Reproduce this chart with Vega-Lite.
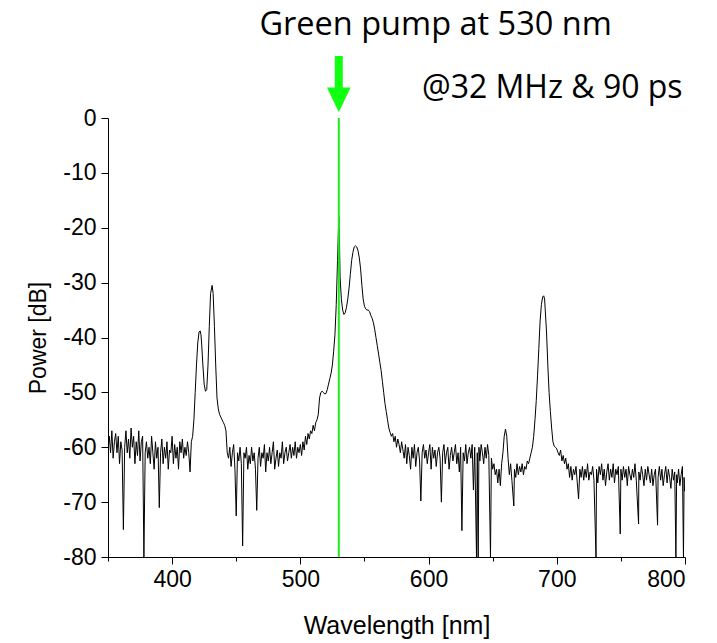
{
  "$schema": "https://vega.github.io/schema/vega-lite/v6.json",
  "autosize": "none",
  "width": 577,
  "height": 439,
  "padding": {"left": 108, "top": 118, "right": 32, "bottom": 86},
  "background": "white",
  "config": {"view": {"stroke": null}},
  "datasets": {
    "spec": [
      {"w":350,"p":-60},{"w":351,"p":-58},{"w":352,"p":-61},{"w":353,"p":-57},{"w":354,"p":-62},{"w":355,"p":-59},{"w":356,"p":-57.5},{"w":357,"p":-61},{"w":358,"p":-58},{"w":359,"p":-63},
      {"w":360,"p":-59},{"w":361,"p":-60.5},{"w":362,"p":-75},{"w":363,"p":-60},{"w":364,"p":-57},{"w":365,"p":-61},{"w":366,"p":-58.5},{"w":367,"p":-62},{"w":368,"p":-56.5},{"w":369,"p":-60},
      {"w":370,"p":-58},{"w":371,"p":-63},{"w":372,"p":-59},{"w":373,"p":-61.5},{"w":374,"p":-57},{"w":375,"p":-62.5},{"w":376,"p":-59},{"w":377,"p":-58},{"w":378,"p":-80},{"w":379,"p":-61},
      {"w":380,"p":-59},{"w":381,"p":-62},{"w":382,"p":-60},{"w":383,"p":-63},{"w":384,"p":-58},{"w":385,"p":-61},{"w":386,"p":-64},{"w":387,"p":-59},{"w":388,"p":-62},{"w":389,"p":-60},
      {"w":390,"p":-71},{"w":391,"p":-61},{"w":392,"p":-58.5},{"w":393,"p":-63},{"w":394,"p":-60},{"w":395,"p":-62},{"w":396,"p":-59},{"w":397,"p":-64},{"w":398,"p":-60.5},{"w":399,"p":-61},
      {"w":400,"p":-58},{"w":401,"p":-63},{"w":402,"p":-59.5},{"w":403,"p":-62},{"w":404,"p":-60},{"w":405,"p":-64},{"w":406,"p":-59},{"w":407,"p":-61},{"w":408,"p":-58.5},{"w":409,"p":-62},
      {"w":410,"p":-60},{"w":411,"p":-61.5},{"w":412,"p":-59},{"w":413,"p":-61},{"w":414,"p":-64.5},{"w":415,"p":-59},
      {"w":416,"p":-58},{"w":417,"p":-55},{"w":418,"p":-50},{"w":419,"p":-45},{"w":420,"p":-41},{"w":421,"p":-39},{"w":421.9,"p":-38.8},{"w":422.5,"p":-39.5},{"w":423,"p":-41},{"w":424,"p":-45},
      {"w":425,"p":-48.5},{"w":426,"p":-49.8},{"w":427,"p":-49.5},{"w":428,"p":-45},{"w":429,"p":-38},{"w":430,"p":-32},{"w":431.2,"p":-30.5},{"w":432,"p":-32},{"w":433,"p":-38},{"w":434,"p":-45},
      {"w":435,"p":-51},{"w":436,"p":-53},{"w":437,"p":-54},{"w":438,"p":-54.5},{"w":439,"p":-55},{"w":440,"p":-55.5},{"w":441,"p":-56},{"w":442,"p":-57},{"w":443,"p":-61},
      {"w":444,"p":-62},{"w":445,"p":-60},{"w":446,"p":-63.5},{"w":447,"p":-61},{"w":448,"p":-59.5},{"w":449,"p":-64},{"w":450,"p":-72.5},{"w":451,"p":-61},{"w":452,"p":-62.5},{"w":453,"p":-60},
      {"w":454,"p":-63},{"w":455,"p":-78},{"w":456,"p":-61},{"w":457,"p":-62},{"w":458,"p":-60},{"w":459,"p":-64},{"w":460,"p":-61.5},{"w":461,"p":-63},{"w":462,"p":-60},{"w":463,"p":-62.5},
      {"w":464,"p":-61},{"w":465,"p":-64},{"w":466,"p":-71.5},{"w":467,"p":-62},{"w":468,"p":-60},{"w":469,"p":-63.5},{"w":470,"p":-61},{"w":471,"p":-62},{"w":472,"p":-59.5},{"w":473,"p":-64.5},
      {"w":474,"p":-61},{"w":475,"p":-62.5},{"w":476,"p":-60},{"w":477,"p":-63},{"w":478,"p":-61},{"w":479,"p":-59},{"w":480,"p":-64},{"w":481,"p":-62},{"w":482,"p":-60.5},{"w":483,"p":-63.5},
      {"w":484,"p":-61},{"w":485,"p":-62},{"w":486,"p":-59},{"w":487,"p":-63},{"w":488,"p":-61},{"w":489,"p":-60},{"w":490,"p":-62.5},{"w":491,"p":-61},{"w":492,"p":-59.5},{"w":493,"p":-62},
      {"w":494,"p":-60},{"w":495,"p":-61.5},{"w":496,"p":-59},{"w":497,"p":-62},{"w":498,"p":-60},{"w":499,"p":-61},{"w":500,"p":-59.5},{"w":501,"p":-61.5},{"w":502,"p":-59},{"w":503,"p":-60.5},
      {"w":504,"p":-58},{"w":505,"p":-59.5},{"w":506,"p":-57.5},{"w":507,"p":-58.5},{"w":508,"p":-57},{"w":509,"p":-57.5},{"w":510,"p":-56},{"w":511,"p":-57},{"w":512,"p":-55.5},{"w":513,"p":-55},
      {"w":514,"p":-54},{"w":515,"p":-51},{"w":516,"p":-50},{"w":517,"p":-49.8},{"w":518,"p":-50},{"w":519,"p":-50.3},{"w":520,"p":-50.2},{"w":521,"p":-49.5},{"w":522,"p":-48.5},{"w":523,"p":-47.5},
      {"w":524,"p":-46.5},{"w":525,"p":-45},{"w":526,"p":-42.5},{"w":527,"p":-39.5},{"w":528,"p":-34},{"w":529,"p":-26},{"w":530,"p":-18},{"w":530.5,"p":-22},{"w":531,"p":-29},{"w":532,"p":-33},
      {"w":533,"p":-35},{"w":534,"p":-35.8},{"w":535,"p":-35.5},{"w":536,"p":-34.5},{"w":537,"p":-33},{"w":538,"p":-31},{"w":539,"p":-28.5},{"w":540,"p":-26},{"w":541,"p":-24.5},{"w":542,"p":-23.5},
      {"w":543,"p":-23.3},{"w":544,"p":-23.5},{"w":545,"p":-24.2},{"w":546,"p":-25.5},{"w":547,"p":-27.5},{"w":548,"p":-30.5},{"w":549,"p":-33},{"w":550,"p":-34.3},{"w":551,"p":-34.8},{"w":552,"p":-35},
      {"w":553,"p":-35},{"w":554,"p":-35.3},{"w":555,"p":-36},{"w":556,"p":-36.5},{"w":557,"p":-37.3},{"w":558,"p":-38.5},{"w":559,"p":-40},{"w":560,"p":-41.5},{"w":561,"p":-43},{"w":562,"p":-44.5},
      {"w":563,"p":-46},{"w":564,"p":-48},{"w":565,"p":-50},{"w":566,"p":-52},{"w":567,"p":-53.5},{"w":568,"p":-55},{"w":569,"p":-56.5},{"w":570,"p":-57.3},{"w":571,"p":-58},{"w":572,"p":-57.5},
      {"w":573,"p":-59},{"w":574,"p":-58},{"w":575,"p":-60},{"w":576,"p":-58.5},{"w":577,"p":-59.5},
      {"w":578,"p":-61},{"w":579,"p":-59},{"w":580,"p":-60.5},{"w":581,"p":-62},{"w":582,"p":-59.5},{"w":583,"p":-63},{"w":584,"p":-60},{"w":585,"p":-61.5},{"w":586,"p":-64},{"w":587,"p":-60},
      {"w":588,"p":-62},{"w":589,"p":-59.5},{"w":590,"p":-63.5},{"w":591,"p":-61},{"w":592,"p":-60},{"w":593,"p":-62.5},{"w":594,"p":-69.8},{"w":595,"p":-61},{"w":596,"p":-59.5},{"w":597,"p":-62},
      {"w":598,"p":-60.5},{"w":599,"p":-63},{"w":600,"p":-61},{"w":601,"p":-59.5},{"w":602,"p":-64},{"w":603,"p":-60},{"w":604,"p":-62},{"w":605,"p":-60.5},{"w":606,"p":-63.5},{"w":607,"p":-61},
      {"w":608,"p":-60},{"w":609,"p":-62},{"w":610,"p":-70},{"w":611,"p":-61},{"w":612,"p":-59.5},{"w":613,"p":-63},{"w":614,"p":-61},{"w":615,"p":-60},{"w":616,"p":-64},{"w":617,"p":-61.5},
      {"w":618,"p":-60},{"w":619,"p":-62.5},{"w":620,"p":-61},{"w":621,"p":-59.5},{"w":622,"p":-63},{"w":623,"p":-61},{"w":624,"p":-64.5},{"w":625,"p":-60},{"w":626,"p":-75.2},{"w":627,"p":-61},
      {"w":628,"p":-62.5},{"w":629,"p":-59.5},{"w":630,"p":-63},{"w":631,"p":-61},{"w":632,"p":-60},{"w":633,"p":-62},{"w":634,"p":-59.5},{"w":635,"p":-67.8},{"w":636,"p":-60},{"w":637.4,"p":-80},
      {"w":638,"p":-61},{"w":638.7,"p":-80},{"w":639.3,"p":-60},{"w":640,"p":-62.5},{"w":641,"p":-59.5},{"w":642,"p":-61},{"w":643,"p":-63},{"w":644,"p":-60},{"w":645,"p":-62},{"w":646,"p":-59.5},
      {"w":647,"p":-61.5},{"w":648.3,"p":-80},{"w":649,"p":-62},{"w":650,"p":-64},{"w":651,"p":-63},{"w":652,"p":-65},{"w":653,"p":-64},{"w":654,"p":-66.5},{"w":655,"p":-64},{"w":656,"p":-67},
      {"w":657,"p":-63},{"w":658,"p":-61},{"w":659,"p":-58},{"w":660,"p":-56.7},{"w":661,"p":-58},{"w":662,"p":-62},{"w":663,"p":-65},{"w":664,"p":-63},{"w":665,"p":-66},{"w":666.5,"p":-70.7},
      {"w":667,"p":-64},{"w":668,"p":-65.5},{"w":669,"p":-63},{"w":670,"p":-65},{"w":671,"p":-63.5},{"w":672,"p":-64.5},{"w":673,"p":-63},{"w":674,"p":-65},{"w":675,"p":-63.5},{"w":676,"p":-64},
      {"w":677,"p":-62.5},{"w":678,"p":-63},{"w":679,"p":-62},{"w":680,"p":-61},{"w":681,"p":-60},{"w":682,"p":-58},{"w":683,"p":-55},{"w":684,"p":-51.5},{"w":685,"p":-47},{"w":686,"p":-42},
      {"w":687,"p":-37},{"w":688,"p":-34},{"w":689,"p":-32.6},{"w":689.8,"p":-32.4},{"w":690.5,"p":-33},{"w":691,"p":-35},{"w":692,"p":-39},{"w":693,"p":-45},{"w":694,"p":-50},{"w":695,"p":-53.5},
      {"w":696,"p":-56.5},{"w":697,"p":-59},{"w":698,"p":-59.8},{"w":699,"p":-60},{"w":700,"p":-60.3},{"w":701,"p":-61},{"w":702,"p":-61.5},{"w":703,"p":-60.5},{"w":704,"p":-62.5},{"w":705,"p":-61.5},
      {"w":706,"p":-63},{"w":707,"p":-62},{"w":708,"p":-64},{"w":709,"p":-63},{"w":710,"p":-65.5},{"w":711,"p":-63.5},{"w":712,"p":-66},{"w":713,"p":-64},{"w":714,"p":-65},{"w":715,"p":-63.5},
      {"w":716,"p":-66.5},{"w":717,"p":-69.4},{"w":718,"p":-64},{"w":719,"p":-65.5},{"w":720,"p":-63.5},{"w":721,"p":-66},{"w":722,"p":-64},{"w":723,"p":-65.5},{"w":724,"p":-63},{"w":725,"p":-66},
      {"w":726,"p":-64.5},{"w":727,"p":-65},{"w":728,"p":-63.5},{"w":729,"p":-66},{"w":730.6,"p":-80},{"w":731,"p":-64},{"w":732,"p":-66.5},{"w":733,"p":-63.5},{"w":734,"p":-65},{"w":735,"p":-63},
      {"w":736,"p":-66},{"w":737,"p":-64},{"w":738,"p":-67},{"w":739,"p":-64.5},{"w":740,"p":-63},{"w":741,"p":-66},{"w":742,"p":-64},{"w":743,"p":-65.5},{"w":744,"p":-63},{"w":745,"p":-66.5},
      {"w":746,"p":-64},{"w":747,"p":-65},{"w":748,"p":-63.5},{"w":749.5,"p":-75.8},{"w":750,"p":-64},{"w":751,"p":-66},{"w":752,"p":-63.5},{"w":753,"p":-65.5},{"w":754,"p":-64},{"w":755,"p":-67},
      {"w":756,"p":-63.5},{"w":757,"p":-65},{"w":758,"p":-66},{"w":759,"p":-64},{"w":760,"p":-65.5},{"w":761,"p":-63},{"w":762,"p":-66},{"w":763.8,"p":-74},{"w":764,"p":-64.5},{"w":765,"p":-66},
      {"w":766,"p":-63.5},{"w":767,"p":-65},{"w":768,"p":-67},{"w":769,"p":-64},{"w":770,"p":-66},{"w":771,"p":-63.5},{"w":772,"p":-65},{"w":773,"p":-66.5},{"w":774,"p":-64},{"w":775,"p":-67},
      {"w":776,"p":-65},{"w":777,"p":-64},{"w":778.6,"p":-74.2},{"w":779,"p":-65.5},{"w":780,"p":-63.5},{"w":781,"p":-66},{"w":782,"p":-64},{"w":783,"p":-67},{"w":784,"p":-65},{"w":785,"p":-63.5},
      {"w":786,"p":-66.5},{"w":787,"p":-64},{"w":788,"p":-65.5},{"w":789,"p":-67.5},{"w":790,"p":-64},{"w":791,"p":-66},{"w":792,"p":-64.5},{"w":792.9,"p":-80},{"w":793.5,"p":-65},{"w":794,"p":-66.5},
      {"w":795,"p":-64},{"w":796,"p":-67},{"w":797,"p":-65},{"w":798,"p":-63.5},{"w":798.8,"p":-80},{"w":799.3,"p":-65.5},{"w":799.6,"p":-68}
    ],
    "notes": [
      {"w": 605.5, "p": 15.1, "t": "Green pump at 530 nm", "s": "big"},
      {"w": 696.5, "p": 3.7, "t": "@32 MHz & 90 ps", "s": "small"}
    ],
    "pump": [{"w": 530, "top": 0, "bottom": -80, "shaftTop": 11.3, "shaftBottom": 5.2, "head": 3.3}]
  },
  "layer": [
    {
      "data": {"name": "spec"},
      "mark": {"type": "line", "color": "black", "strokeWidth": 1, "clip": true},
      "encoding": {
        "x": {
          "field": "w", "type": "quantitative",
          "scale": {"domain": [350, 800], "nice": false, "zero": false},
          "axis": {
            "title": "Wavelength [nm]",
            "values": [350, 400, 450, 500, 550, 600, 650, 700, 750, 800],
            "labelExpr": "datum.value % 100 === 0 ? '' + datum.value : ''",
            "grid": false,
            "domainColor": "black", "domainWidth": 1,
            "tickColor": "black", "tickWidth": 1,
            "tickSize": {"condition": {"test": "datum.value % 100 === 0", "value": 7}, "value": 4},
            "labelFont": "Liberation Sans", "labelFontSize": 23, "labelColor": "black", "labelPadding": 4,
            "titleFont": "Liberation Sans", "titleFontSize": 25, "titleFontWeight": "normal", "titleColor": "black", "titlePadding": 22
          }
        },
        "y": {
          "field": "p", "type": "quantitative",
          "scale": {"domain": [-80, 0], "nice": false, "zero": false},
          "axis": {
            "title": "Power [dB]",
            "values": [0, -5, -10, -15, -20, -25, -30, -35, -40, -45, -50, -55, -60, -65, -70, -75, -80],
            "labelExpr": "datum.value % 10 === 0 ? '' + datum.value : ''",
            "grid": false,
            "domainColor": "black", "domainWidth": 1,
            "tickColor": "black", "tickWidth": 1,
            "tickSize": {"condition": {"test": "datum.value % 10 === 0", "value": 7}, "value": 4},
            "labelFont": "Liberation Sans", "labelFontSize": 23, "labelColor": "black", "labelPadding": 5,
            "titleFont": "Liberation Sans", "titleFontSize": 23, "titleFontWeight": "normal", "titleColor": "black", "titlePadding": 12
          }
        }
      }
    },
    {
      "data": {"name": "pump"},
      "mark": {"type": "rule", "color": "#1aee1a", "strokeWidth": 2},
      "encoding": {"x": {"field": "w", "type": "quantitative"}, "y": {"field": "top", "type": "quantitative"}, "y2": {"field": "bottom"}}
    },
    {
      "data": {"name": "pump"},
      "mark": {"type": "rule", "color": "#11ff11", "strokeWidth": 8, "strokeCap": "butt"},
      "encoding": {"x": {"field": "w", "type": "quantitative"}, "y": {"field": "shaftTop", "type": "quantitative"}, "y2": {"field": "shaftBottom"}}
    },
    {
      "data": {"name": "pump"},
      "mark": {"type": "point", "shape": "M-1,-1.05L1,-1.05L0,1.05Z", "filled": true, "color": "#11ff11", "size": 560, "opacity": 1, "strokeWidth": 0},
      "encoding": {"x": {"field": "w", "type": "quantitative"}, "y": {"field": "head", "type": "quantitative"}}
    },
    {
      "data": {"name": "notes"},
      "mark": {"type": "text", "font": "Open Sans", "color": "black", "align": "center", "baseline": "alphabetic"},
      "encoding": {
        "x": {"field": "w", "type": "quantitative"},
        "y": {"field": "p", "type": "quantitative"},
        "text": {"field": "t"},
        "size": {"field": "s", "type": "nominal", "scale": {"domain": ["big", "small"], "range": [32.5, 32]}, "legend": null}
      }
    }
  ]
}
